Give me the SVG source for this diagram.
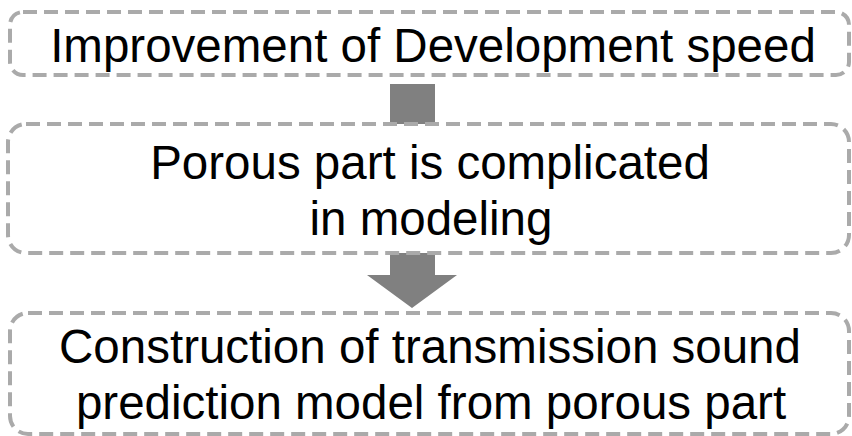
<svg xmlns="http://www.w3.org/2000/svg" width="852" height="436" viewBox="0 0 852 436">
<style>
.box{fill:#fff;stroke:#aaaaaa;stroke-width:4;stroke-dasharray:14 7}
.t{font-family:"Liberation Sans",Arial,sans-serif;fill:#000;text-anchor:middle;font-size:47.5px}
.arr{fill:#808080}
</style>
<rect width="852" height="436" fill="#fff"/>
<g id="connectors">
<rect class="arr" x="390" y="84" width="45" height="40"/>
<polygon class="arr" points="390,253 435,253 435,275 457,275 412,308 367,275 390,275"/>
</g>
<g id="n1">
<rect class="box" x="10" y="12" width="839" height="63" rx="13"/>
<text class="t" x="433" y="62">Improvement of Development speed</text>
</g>
<g id="n2">
<rect class="box" x="8" y="124" width="841" height="129" rx="18"/>
<text class="t" x="430" y="179">Porous part is complicated</text>
<text class="t" x="431" y="235">in modeling</text>
</g>
<g id="n3">
<rect class="box" x="10" y="313" width="839" height="121" rx="18"/>
<text class="t" x="430" y="363">Construction of transmission sound</text>
<text class="t" x="431" y="419">prediction model from porous part</text>
</g>
</svg>
